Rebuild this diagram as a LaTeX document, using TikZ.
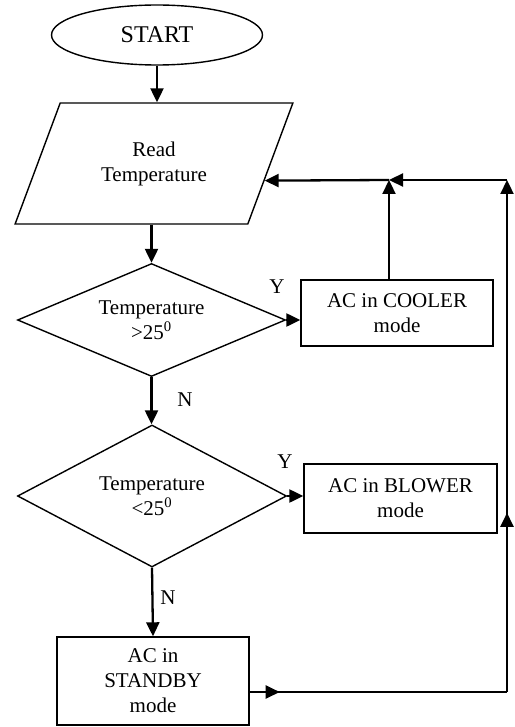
\documentclass[tikz,border=0pt]{standalone}
\usepackage{fontspec}
\setmainfont{Liberation Serif}
\usetikzlibrary{arrows.meta,shapes.geometric,calc}

\begin{document}
\begin{tikzpicture}[x=1pt,y=-1pt,
    outline/.style={draw,line width=1.4pt,inner sep=0pt,align=center,font=\fontsize{21}{25}\selectfont},
    terminal/.style={outline,ellipse,minimum width=211pt,minimum height=60pt,font=\fontsize{24}{28}\selectfont},
    inputbox/.style={outline,trapezium,trapezium left angle=60,trapezium right angle=120,
                     trapezium stretches=true,minimum width=278pt,minimum height=121pt},
    decision/.style={outline,diamond,minimum width=268pt},
    modebox/.style={outline,rectangle,minimum width=192pt},
    link/.style={line width=2.3pt},
    flow/.style={line width=2.3pt,-{Triangle[length=14pt,width=13pt]}},
    answer/.style={font=\fontsize{21}{25}\selectfont,inner sep=0pt}]

  \useasboundingbox (0,0) rectangle (514,727);

  % --- the blocks of the chart ---
  \node[terminal] (start) at (157,35) {START};
  \node[inputbox] (read) at (154,163.5) {Read\\Temperature};
  \node[decision,shape aspect=2.4,minimum height=113pt] (hot) at (151.5,320) {Temperature\\>25\textsuperscript{0}};
  \node[decision,shape aspect=1.9,minimum width=269pt,minimum height=142pt] (warm) at (152,496) {Temperature\\<25\textsuperscript{0}};
  \node[modebox,minimum height=66pt] (cooler) at (397,313) {AC in COOLER\\mode};
  \node[modebox,minimum width=193pt,minimum height=69pt] (blower) at (400.5,498.5) {AC in BLOWER\\mode};
  \node[modebox,minimum height=88pt] (standby) at (153,681) {AC in\\STANDBY\\mode};

  % --- points of the return path ---
  \coordinate (back)   at (389,180);
  \coordinate (corner) at (507,180);
  \coordinate (foot)   at (507,692);

  % --- the main line down ---
  \draw[flow] (start.south) -- (start.south |- read.north);
  \draw[flow] (hot.north |- read.south) -- (hot.north);
  \draw[flow] (hot.south) -- (hot.south |- warm.north);
  \draw[flow] (warm.south) -- (standby.north);

  % --- the Y branches ---
  \draw[flow] (hot.east) -- (hot.east -| cooler.west);
  \draw[flow] (warm.east) -- (warm.east -| blower.west);

  % --- back to the reading ---
  \draw[flow] (back |- cooler.north) -- (back);
  \draw[link] (standby.east |- foot) -- (foot);
  \draw[flow] (standby.east |- foot) -- ++(30,0);
  \draw[flow] (foot) -- (corner);
  \draw[flow] (foot) -- ($(foot)!0.35!(corner)$);
  \draw[flow] (corner) -- (back);
  \draw[flow] (back) -- ($(read.top right corner)!0.64!(read.bottom right corner)$);

  % --- lettering ---
  \node[answer] (yes1) at (277,287) {Y};
  \node[answer] (no1)  at (185,400) {N};
  \node[answer] (yes2) at (285,462) {Y};
  \node[answer] (no2)  at (168,598) {N};
\end{tikzpicture}
\end{document}
